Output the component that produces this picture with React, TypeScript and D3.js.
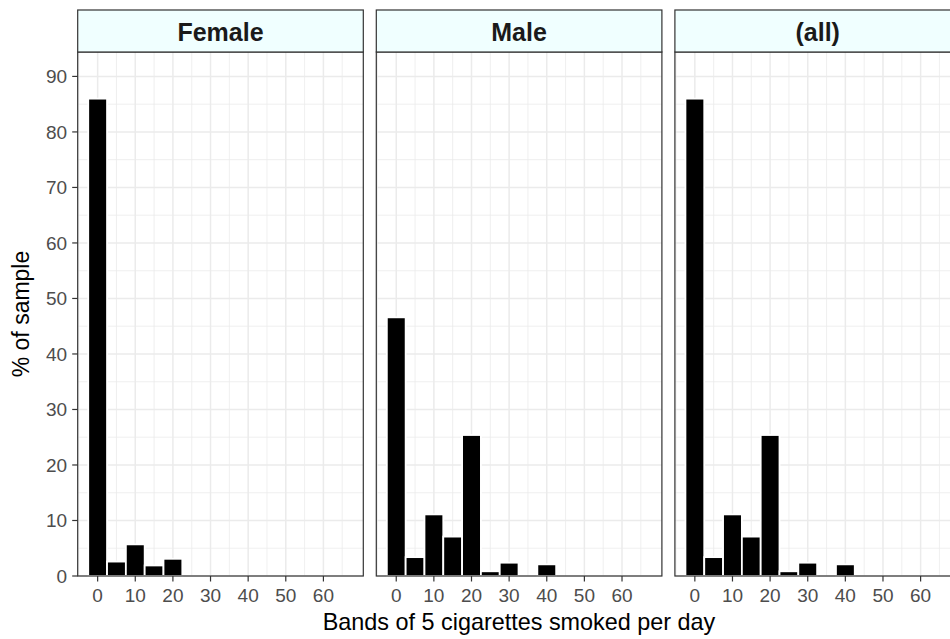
import React, {useEffect, useRef} from 'react';
import * as d3 from 'd3';

// bands of 5 cigarettes per day (bar centres) and % of sample per panel
const bands = [0, 5, 10, 15, 20, 25, 30, 35, 40];
const femalePct = [86, 2.6, 5.7, 1.9, 3.1, 0, 0, 0, 0];
const malePct = [46.6, 3.4, 11.1, 7.1, 25.4, 0.85, 2.4, 0, 2.1];
const allPct = [86, 3.4, 11.1, 7.1, 25.4, 0.85, 2.4, 0, 2.1];

const panelNames = ['Female', 'Male', '(all)'];
const panelValues = [femalePct, malePct, allPct];

const xTicks = [0, 10, 20, 30, 40, 50, 60];
const xMinor = [-5, 5, 15, 25, 35, 45, 55, 65];
const yTicks = [0, 10, 20, 30, 40, 50, 60, 70, 80, 90];
const yMinor = [5, 15, 25, 35, 45, 55, 65, 75, 85];

const W = 950;
const H = 639;

export default function App() {
  const ref = useRef<SVGSVGElement>(null);

  useEffect(() => {
    const svg = d3.select(ref.current);
    svg.selectAll('*').remove();

    const font = '"Liberation Sans", Arial, sans-serif';
    const panelW = 285.6;
    const panelStep = 298.6;
    const left0 = 77.7;
    const stripTop = 10;
    const top = 52;
    const bottom = 576;

    const y = d3.scaleLinear().domain([0, 94.4]).range([bottom, top]);

    panelNames.forEach((name, p) => {
      const x0 = left0 + p * panelStep;
      const x = d3.scaleLinear().domain([-5.3, 70.6]).range([x0, x0 + panelW]);
      const g = svg.append('g');

      g.append('rect')
        .attr('x', x0).attr('y', top)
        .attr('width', panelW).attr('height', bottom - top)
        .attr('fill', 'white');

      // grid
      g.selectAll('.ymin').data(yMinor).enter().append('line')
        .attr('x1', x0).attr('x2', x0 + panelW)
        .attr('y1', d => y(d)).attr('y2', d => y(d))
        .attr('stroke', '#EBEBEB').attr('stroke-width', 0.8);
      g.selectAll('.xmin').data(xMinor).enter().append('line')
        .attr('y1', top).attr('y2', bottom)
        .attr('x1', d => x(d)).attr('x2', d => x(d))
        .attr('stroke', '#EBEBEB').attr('stroke-width', 0.8);
      g.selectAll('.ymaj').data(yTicks).enter().append('line')
        .attr('x1', x0).attr('x2', x0 + panelW)
        .attr('y1', d => y(d)).attr('y2', d => y(d))
        .attr('stroke', '#EBEBEB').attr('stroke-width', 1.5);
      g.selectAll('.xmaj').data(xTicks).enter().append('line')
        .attr('y1', top).attr('y2', bottom)
        .attr('x1', d => x(d)).attr('x2', d => x(d))
        .attr('stroke', '#EBEBEB').attr('stroke-width', 1.5);

      // bars
      const vals = panelValues[p];
      g.selectAll('.bar')
        .data(bands.map((b, i) => ({b, v: vals[i]})).filter(d => d.v > 0))
        .enter().append('rect')
        .attr('x', d => x(d.b - 2.5))
        .attr('width', d => x(d.b + 2.5) - x(d.b - 2.5))
        .attr('y', d => y(d.v))
        .attr('height', d => y(0) - y(d.v))
        .attr('fill', 'black')
        .attr('stroke', 'white')
        .attr('stroke-width', 1.8);

      // border
      g.append('rect')
        .attr('x', x0).attr('y', top)
        .attr('width', panelW).attr('height', bottom - top)
        .attr('fill', 'none').attr('stroke', '#333333').attr('stroke-width', 1.2);

      // strip
      g.append('rect')
        .attr('x', x0).attr('y', stripTop)
        .attr('width', panelW).attr('height', top - stripTop)
        .attr('fill', '#F0FFFF').attr('stroke', '#333333').attr('stroke-width', 1.2);
      g.append('text')
        .attr('x', x0 + panelW / 2).attr('y', 40.5)
        .attr('text-anchor', 'middle')
        .attr('font-family', font).attr('font-weight', 'bold')
        .attr('font-size', 25).attr('fill', '#1A1A1A')
        .text(name);

      // x axis
      const xa = g.append('g').attr('transform', `translate(0,${bottom})`);
      xa.selectAll('line').data(xTicks).enter().append('line')
        .attr('x1', d => x(d)).attr('x2', d => x(d))
        .attr('y1', 0).attr('y2', 5.5)
        .attr('stroke', '#333333').attr('stroke-width', 1.2);
      xa.selectAll('text').data(xTicks).enter().append('text')
        .attr('x', d => x(d)).attr('y', 25.5)
        .attr('text-anchor', 'middle')
        .attr('font-family', font).attr('font-size', 19)
        .attr('fill', '#4D4D4D')
        .text(d => d);

      // y axis only on first panel
      if (p === 0) {
        const ya = g.append('g');
        ya.selectAll('line').data(yTicks).enter().append('line')
          .attr('x1', x0 - 5.5).attr('x2', x0)
          .attr('y1', d => y(d)).attr('y2', d => y(d))
          .attr('stroke', '#333333').attr('stroke-width', 1.2);
        ya.selectAll('text').data(yTicks).enter().append('text')
          .attr('x', x0 - 10.5).attr('y', d => y(d))
          .attr('dy', '0.35em')
          .attr('text-anchor', 'end')
          .attr('font-family', font).attr('font-size', 19)
          .attr('fill', '#4D4D4D')
          .text(d => d);
      }
    });

    svg.append('text')
      .attr('x', 519).attr('y', 629.5)
      .attr('text-anchor', 'middle')
      .attr('font-family', font).attr('font-size', 23.4)
      .attr('fill', 'black')
      .text('Bands of 5 cigarettes smoked per day');

    svg.append('text')
      .attr('transform', 'translate(29,314) rotate(-90)')
      .attr('text-anchor', 'middle')
      .attr('font-family', font).attr('font-size', 23)
      .attr('fill', 'black')
      .text('% of sample');
  }, []);

  return (
    <svg
      ref={ref}
      width={W}
      height={H}
      style={{position: 'absolute', left: 0, top: 0, background: 'white'}}
    />
  );
}
